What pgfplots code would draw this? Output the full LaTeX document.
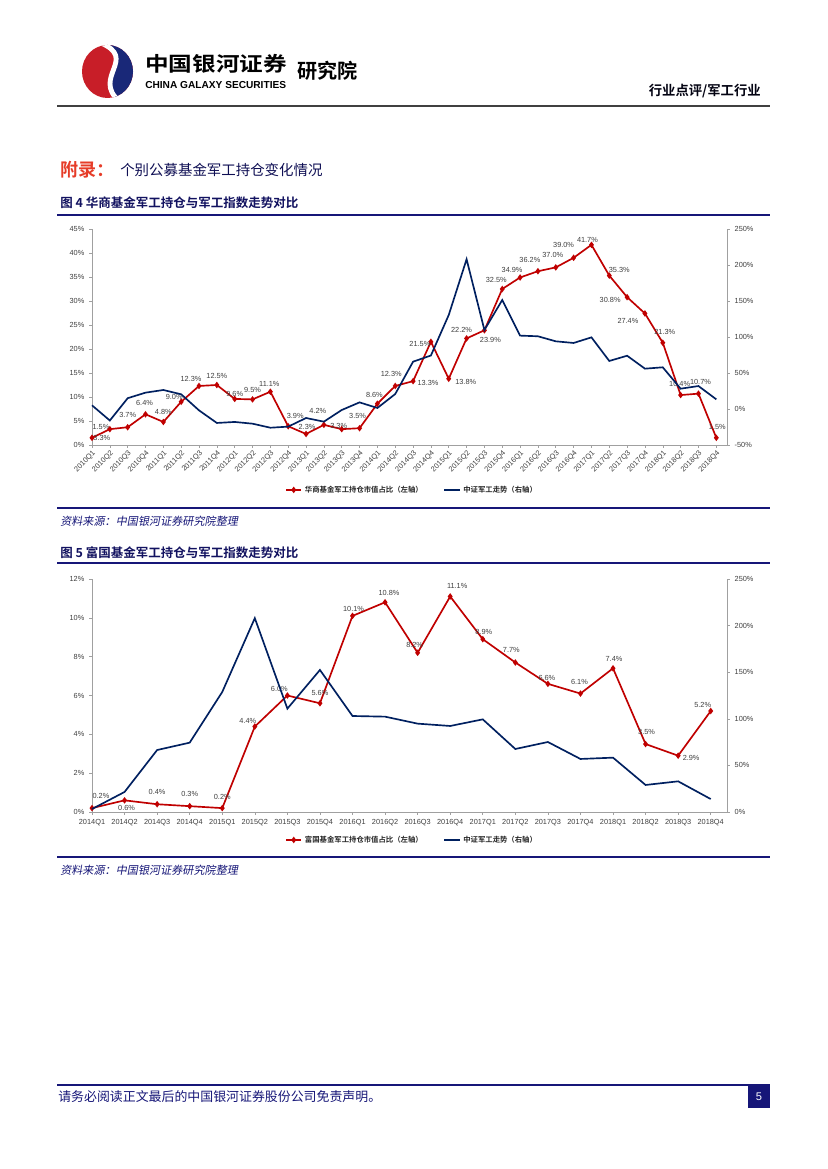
\documentclass[border=0pt]{standalone}
\usepackage{pgfplots}
\pgfplotsset{compat=1.18}
\usepackage{pgfplotstable}
\usepackage{fontspec}
\setmainfont{Liberation Sans}
\newfontfamily\cjk[BoldFont={Noto Sans CJK SC Bold}]{Noto Sans CJK SC}
\newfontfamily\cjki[FakeSlant=0.18]{Noto Sans CJK SC}

\definecolor{galred}{RGB}{192,0,0}
\definecolor{galblue}{RGB}{0,32,96}
\definecolor{navy}{RGB}{22,22,120}
\definecolor{tickgray}{RGB}{64,64,64}
\definecolor{axgray}{RGB}{160,160,160}
\definecolor{hdrgray}{RGB}{64,64,64}
\definecolor{titlered}{RGB}{230,60,40}
\definecolor{logored}{RGB}{200,30,40}
\definecolor{logoblue}{RGB}{25,40,120}

% chart 1: x, value, label offset (px)
\pgfplotstableread{
x y dx up
0 1.5 9 11
1 3.3 -8 -9
2 3.7 0 12
3 6.4 -1 11
4 4.8 0 10
5 9.0 -7 5
6 12.3 -8 7
7 12.5 0 9
8 9.6 0 5
9 9.5 0 9
10 11.1 -1 8
11 3.9 7 10
12 2.3 1 7
13 4.2 -6 14
14 3.3 -3 3
15 3.5 -2 12
16 8.6 -3 9
17 12.3 -4 12
18 13.3 15 -2
19 21.5 -11 -2
20 13.8 17 -3
21 22.2 -5 8
22 23.9 6 -10
23 32.5 -6 9
24 34.9 -8 8
25 36.2 -8 11
26 37.0 -3 12
27 39.0 -10 13
28 41.7 -4 5
29 35.3 10 6
30 30.8 -17 -3
31 27.4 -17 -7
32 21.3 2 11
33 10.4 -1 11
34 10.7 2 12
35 1.5 1 11
}\huashang

\pgfplotstableread{
x y
0 5.1
1 -16
2 15
3 22.7
4 26.4
5 20.4
6 -1.9
7 -19.4
8 -18
9 -20.4
10 -26
11 -24.5
12 -12.5
13 -17.6
14 -1.4
15 9.2
16 1.4
17 20.8
18 65.7
19 74.3
20 130.6
21 208
22 109.7
23 151.4
24 101.9
25 101
26 94
27 91.7
28 99.5
29 66.7
30 74
31 56
32 57.9
33 28.2
34 31.9
35 13.4
}\indexA

% chart 2
\pgfplotstableread{
x y dx up
0 0.2 9 12
1 0.6 2 -8
2 0.4 0 12
3 0.3 0 12
4 0.2 0 11
5 4.4 -7 6
6 6.0 -8 7
7 5.6 0 10
8 10.1 1 7
9 10.8 4 9
10 8.2 -3 8
11 11.1 7 11
12 8.9 1 7
13 7.7 -4 13
14 6.6 -1 6
15 6.1 -1 12
16 7.4 1 9
17 3.5 1 12
18 2.9 13 -2
19 5.2 -8 6
}\fuguo

\pgfplotstableread{
x y
0 3.2
1 21.5
2 66.5
3 74.4
4 128.8
5 208
6 110.9
7 152.4
8 103
9 102.3
10 94.8
11 92.3
12 99.4
13 67.6
14 75.1
15 56.9
16 58.3
17 29
18 32.9
19 13.9
}\indexB

\pgfplotsset{
  pagechart/.style={
    scale only axis, width=457.2pt, anchor=south west,
    axis line style={-,axgray}, tick style={axgray, line width=0.4pt},
    major tick length=2pt, tick align=outside,
    ticklabel style={font=\fontsize{5.3}{6}\selectfont, text=tickgray},
    /pgf/number format/assume math mode=true,
    yticklabel={\pgfmathprintnumber{\tick}\%},
    clip=false,
    legend image code/.code={\draw[mark repeat=2,mark phase=2,##1] plot coordinates {(0pt,0pt) (5.5pt,0pt) (11pt,0pt)};},
  },
  redline/.style={color=galred, line width=1.2pt, mark=diamond*, mark size=1.4pt, mark options={solid}},
  blueline/.style={color=galblue, line width=1.2pt},
  labelled/.style={
    nodes near coords={\pgfmathprintnumber[fixed,fixed zerofill,precision=1]{\pgfplotspointmeta}\%},
    point meta=y,
    visualization depends on={\thisrow{dx}\as\ldx},
    visualization depends on={\thisrow{up}\as\lup},
    every node near coord/.append style={anchor=center, inner sep=0pt,
      xshift={\ldx*0.72pt}, yshift={\lup*0.72pt},
      font=\fontsize{5.3}{6}\selectfont, text=tickgray},
  },
  pagelegend/.style={
    legend columns=2,
    legend style={at={(0.5047,#1)}, anchor=center, draw=none, fill=none, inner sep=0pt,
      font=\cjk\bfseries\fontsize{5.3}{6}\selectfont, text=black!85,
      /tikz/every even column/.append style={column sep=13pt}},
  },
}

\begin{document}
\begin{tikzpicture}
\begin{scope}[x=0.72pt,y=0.72pt]
\fill[white] (0,0) rectangle (827,1169);
% logo
\begin{scope}
  \clip (107.5,1097.5) ellipse (25.5 and 26.5);
  \fill[logored] (80,1070) rectangle (135,1125);
  \fill[logoblue] (101,1126) .. controls (138,1110) and (92,1092) .. (119,1068) -- (140,1060) -- (140,1130) -- cycle;
  \draw[white, line width=3.5pt] (101,1126) .. controls (138,1110) and (92,1092) .. (119,1068);
\end{scope}
\node[anchor=west, inner sep=0pt, yscale=0.85] at (145,1105) {\cjk\bfseries\fontsize{17}{17}\selectfont 中国银河证券};
\node[anchor=west, inner sep=0pt] at (145,1084) {\bfseries\fontsize{7.3}{8}\selectfont CHINA GALAXY SECURITIES};
\node[anchor=west, inner sep=0pt] at (297,1098) {\cjk\bfseries\fontsize{14.5}{15}\selectfont 研究院};
\node[anchor=east, inner sep=0pt, text=black!85!navy] at (761,1078) {\cjk\bfseries\fontsize{9.6}{10}\selectfont 行业点评/军工行业};
\draw[hdrgray, line width=1.5pt] (57,1063) -- (770,1063);
% section heading
\node[anchor=west, inner sep=0pt, text=titlered] at (60,999) {\cjk\bfseries\fontsize{13}{14}\selectfont 附录：};
\node[anchor=west, inner sep=0pt, text=navy!70!black] at (120,999) {\cjk\fontsize{10.4}{11}\selectfont 个别公募基金军工持仓变化情况};
% figure 4 frame
\node[anchor=west, inner sep=0pt, text=navy!80!black] at (60,966) {\cjk\bfseries\fontsize{9}{10}\selectfont 图 4 华商基金军工持仓与军工指数走势对比};
\draw[navy, line width=1.5pt] (57,954) -- (770,954);
\draw[navy, line width=1.5pt] (57,661) -- (770,661);
\node[anchor=west, inner sep=0pt, text=navy] at (60,648) {\cjki\fontsize{8}{9}\selectfont 资料来源：中国银河证券研究院整理};
% figure 5 frame
\node[anchor=west, inner sep=0pt, text=navy!80!black] at (60,616) {\cjk\bfseries\fontsize{9}{10}\selectfont 图 5 富国基金军工持仓与军工指数走势对比};
\draw[navy, line width=1.5pt] (57,606) -- (770,606);
\draw[navy, line width=1.5pt] (57,312) -- (770,312);
\node[anchor=west, inner sep=0pt, text=navy] at (60,299) {\cjki\fontsize{8}{9}\selectfont 资料来源：中国银河证券研究院整理};
% footer
\draw[navy, line width=0.8pt] (57,84) -- (770,84);
\node[anchor=west, inner sep=0pt, text=navy] at (58,72) {\cjk\fontsize{9.3}{10}\selectfont 请务必阅读正文最后的中国银河证券股份公司免责声明。};
\fill[navy] (748,61) rectangle (770,83);
\node[text=white, inner sep=0pt] at (759,72) {\fontsize{8}{9}\selectfont 5};
\end{scope}

% ---- figure 4 ----
\begin{axis}[pagechart, at={(66.24pt,521.28pt)}, height=155.52pt,
  xmin=0, xmax=35.6, ymin=0, ymax=45,
  axis x line*=bottom, axis y line*=left,
  xtick={0,...,35},
  xticklabels={2010Q1,2010Q2,2010Q3,2010Q4,2011Q1,2011Q2,2011Q3,2011Q4,2012Q1,2012Q2,2012Q3,2012Q4,2013Q1,2013Q2,2013Q3,2013Q4,2014Q1,2014Q2,2014Q3,2014Q4,2015Q1,2015Q2,2015Q3,2015Q4,2016Q1,2016Q2,2016Q3,2016Q4,2017Q1,2017Q2,2017Q3,2017Q4,2018Q1,2018Q2,2018Q3,2018Q4},
  xticklabel style={rotate=45, anchor=north east, inner sep=1pt},
  ytick={0,5,...,45}]
\addplot[redline, labelled] table[x=x,y=y] {\huashang};
\end{axis}
\begin{axis}[pagechart, pagelegend=-0.208, at={(66.24pt,521.28pt)}, height=155.52pt,
  xmin=0, xmax=35.6, ymin=-50, ymax=250,
  axis x line=none, axis y line*=right,
  ytick={-50,0,...,250}]
\addlegendimage{redline}
\addlegendentry{华商基金军工持仓市值占比（左轴）}
\addplot[blueline] table[x=x,y=y] {\indexA};
\addlegendentry{中证军工走势（右轴）}
\end{axis}

% ---- figure 5 ----
\begin{axis}[pagechart, at={(66.24pt,257.04pt)}, height=167.76pt,
  xmin=0, xmax=19.5, ymin=0, ymax=12,
  axis x line*=bottom, axis y line*=left,
  xtick={0,...,19},
  xticklabels={2014Q1,2014Q2,2014Q3,2014Q4,2015Q1,2015Q2,2015Q3,2015Q4,2016Q1,2016Q2,2016Q3,2016Q4,2017Q1,2017Q2,2017Q3,2017Q4,2018Q1,2018Q2,2018Q3,2018Q4},
  ytick={0,2,...,12}]
\addplot[redline, labelled] table[x=x,y=y] {\fuguo};
\end{axis}
\begin{axis}[pagechart, pagelegend=-0.12, at={(66.24pt,257.04pt)}, height=167.76pt,
  xmin=0, xmax=19.5, ymin=0, ymax=250,
  axis x line=none, axis y line*=right,
  ytick={0,50,...,250}]
\addlegendimage{redline}
\addlegendentry{富国基金军工持仓市值占比（左轴）}
\addplot[blueline] table[x=x,y=y] {\indexB};
\addlegendentry{中证军工走势（右轴）}
\end{axis}
\end{tikzpicture}
\end{document}
